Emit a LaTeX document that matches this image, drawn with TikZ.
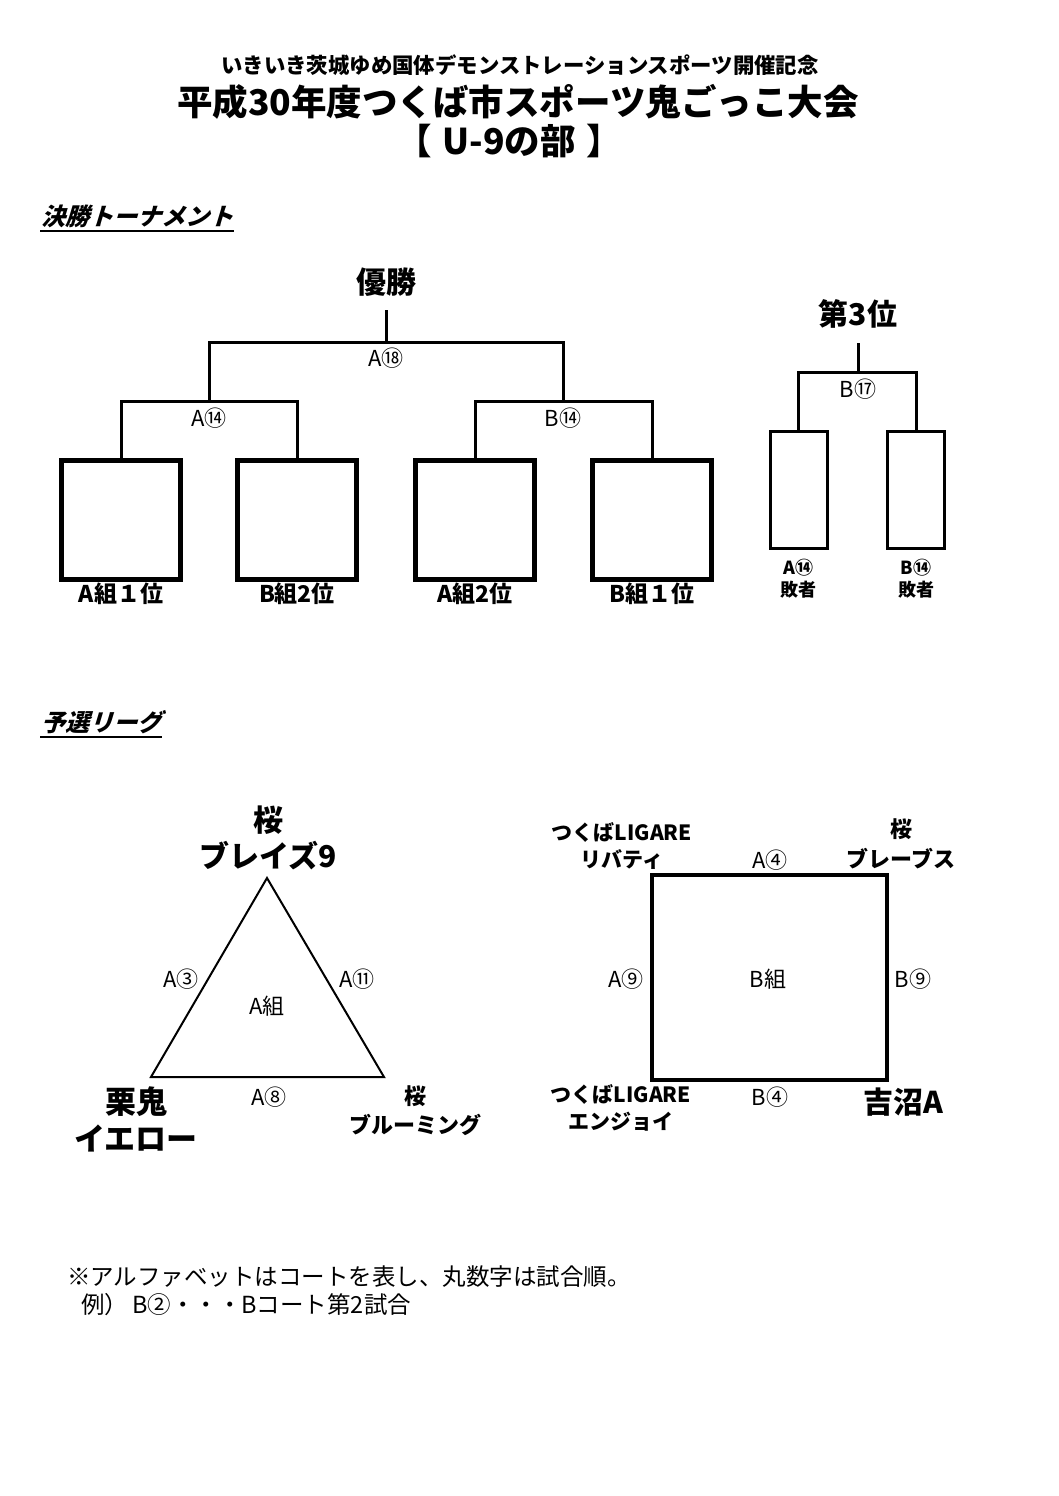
\documentclass[tikz,border=0pt]{standalone}
\usepackage{fontspec}
\usetikzlibrary{calc}
\setmainfont{Noto Sans CJK JP}
\newfontfamily\headfont[FakeSlant=0.3]{Noto Sans CJK JP}

\begin{document}
\begin{tikzpicture}[x=1pt,y=-1pt]
	\tikzstyle{final}=[draw,line width=5pt,minimum width=119pt,minimum height=119pt,inner sep=0pt]
	\tikzstyle{third}=[draw,line width=3pt,minimum width=57pt,minimum height=117pt,inner sep=0pt]
	\tikzstyle{bracket}=[line width=3pt]
	\tikzstyle{match}=[inner sep=1pt,font=\fontsize{22}{24}\selectfont]
	\tikzstyle{seed}=[inner sep=1pt,font=\bfseries\fontsize{23}{26}\selectfont]
	\tikzstyle{big}=[inner sep=1pt,align=center,font=\bfseries\fontsize{30}{36}\selectfont]
	\tikzstyle{team}=[inner sep=1pt,align=center,font=\bfseries\fontsize{21}{27}\selectfont]
	\tikzstyle{loser}=[inner sep=1pt,align=center,font=\bfseries\fontsize{18}{22}\selectfont]
	\tikzstyle{heading}=[inner sep=1pt,anchor=west,font=\headfont\bfseries\fontsize{24}{28}\selectfont]
	\tikzstyle{note}=[inner sep=1pt,anchor=west,font=\fontsize{23.5}{28}\selectfont]
	
	\useasboundingbox (0,0) rectangle (1058,1496);
	
	% title
	\node (sub) at (520,65) [inner sep=1pt,font=\bfseries\fontsize{21.4}{24}\selectfont] {いきいき茨城ゆめ国体デモンストレーションスポーツ開催記念};
	\node (ttl) at (518,102) [inner sep=1pt,font=\bfseries\fontsize{35.5}{40}\selectfont] {平成30年度つくば市スポーツ鬼ごっこ大会};
	\node (div) at (509,141) [inner sep=1pt,font=\bfseries\fontsize{35.5}{40}\selectfont] {【\hspace{0.3em}U-9の部\hspace{0.3em}】};
	
	\node (h1) at (40,216) [heading] {決勝トーナメント};
	\draw[line width=2pt] ($(h1.south west)+(0,2)$) -- ($(h1.south east)+(0,2)$);
	
	% final tournament
	\node (win) at (386,282) [big] {優勝};
	\node (b1) at (121,520) [final] {};
	\node (b2) at (297,520) [final] {};
	\node (b3) at (475,520) [final] {};
	\node (b4) at (652,520) [final] {};
	\coordinate (top) at (386,310);
	\coordinate (fin) at (386,342);
	\coordinate (sf1) at (209,401);
	\coordinate (sf2) at (563,401);
	
	\draw[bracket] (b1.north) |- (sf1) -| (b2.north);
	\draw[bracket] (b3.north) |- (sf2) -| (b4.north);
	\draw[bracket] (sf1) |- (fin) -| (sf2);
	\draw[bracket] (fin) -- (top);
	
	\node at (386,358) [match] {A⑱};
	\node at (209,418) [match] {A⑭};
	\node at (563,418) [match] {B⑭};
	
	\node at (121,594) [seed] {A組１位};
	\node at (297,594) [seed] {B組2位};
	\node at (475,594) [seed] {A組2位};
	\node at (652,594) [seed] {B組１位};
	
	% third place
	\node (third) at (858,314) [big] {第3位};
	\node (l1) at (798.5,490) [third] {};
	\node (l2) at (916,490) [third] {};
	\coordinate (tt) at (858,343);
	\coordinate (tm) at (858,372);
	\draw[bracket] (l1.north) |- (tm) -| (l2.north);
	\draw[bracket] (tm) -- (tt);
	\node at (858,389) [match] {B⑰};
	\node at (798.5,579) [loser] {A⑭\\敗者};
	\node at (916,579) [loser] {B⑭\\敗者};
	
	% preliminary league
	\node (h2) at (40,722) [heading] {予選リーグ};
	\draw[line width=2pt] ($(h2.south west)+(0,2)$) -- ($(h2.south east)+(0,2)$);
	
	% group A
	\coordinate (ta) at (267,878);
	\coordinate (tb) at (151,1077);
	\coordinate (tc) at (384,1077);
	\draw[line width=2pt,line join=miter] (ta) -- (tb) -- (tc) -- cycle;
	\node (blaze) at (268,838) [big] {桜\\ブレイズ9};
	\node (yellow) at (136,1119) [big,font=\bfseries\fontsize{31}{37}\selectfont] {栗鬼\\イエロー};
	\node (bloom) at (415,1111) [team,font=\bfseries\fontsize{22}{29}\selectfont] {桜\\ブルーミング};
	\node at (181,979) [match] {A③};
	\node at (357,979) [match] {A⑪};
	\node at (269,1097) [match] {A⑧};
	\node at (267,1006) [match] {A組};
	
	% group B
	\coordinate (sa) at (652,875);
	\coordinate (sb) at (887,875);
	\coordinate (sc) at (887,1080);
	\coordinate (sd) at (652,1080);
	\draw[line width=3.3pt] (sa) -- (sb) -- (sc) -- (sd) -- cycle;
	\node (liberty) at (622,846) [team] {つくばLIGARE\\リバティ};
	\node (braves) at (901,844) [team,font=\bfseries\fontsize{22}{30}\selectfont] {桜\\ブレーブス};
	\node (enjoy) at (621,1108) [team] {つくばLIGARE\\エンジョイ};
	\node (yoshi) at (903,1102) [big] {吉沼A};
	\node at (770,860) [match] {A④};
	\node at (626,979) [match] {A⑨};
	\node at (913,979) [match] {B⑨};
	\node at (770,1097) [match] {B④};
	\node at (768,979) [match] {B組};
	
	% note
	\node at (66,1277) [note] {※アルファベットはコートを表し、丸数字は試合順。};
	\node at (80,1305) [note] {例）\,B②・・・Bコート第2試合};
\end{tikzpicture}
\end{document}
